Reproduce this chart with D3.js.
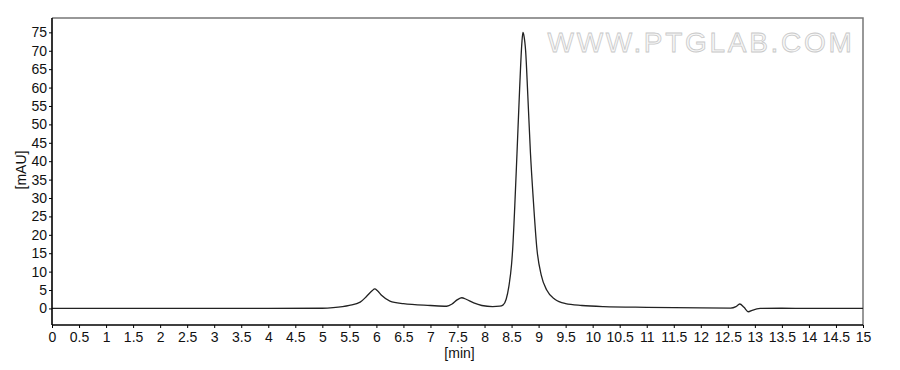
<!DOCTYPE html>
<html><head><meta charset="utf-8">
<script src="https://cdn.jsdelivr.net/npm/d3@7"></script>
<style>body{margin:0;background:#fff}svg{display:block}text{font-family:"Liberation Sans",Arial,sans-serif}</style>
</head><body><svg id="c" width="900" height="370"></svg>
<script>
const times  = [0, 2, 4, 5.0, 5.2, 5.5, 5.7, 5.82, 5.92, 5.97, 6.02, 6.1, 6.25, 6.5, 7.0, 7.3, 7.4, 7.5, 7.58, 7.66, 7.8, 7.95, 8.15, 8.28, 8.34, 8.4, 8.45, 8.5, 8.52, 8.56, 8.6, 8.65, 8.69, 8.71, 8.73, 8.76, 8.8, 8.85, 8.9, 8.97, 9.05, 9.15, 9.3, 9.5, 9.8, 10.2, 11, 12, 12.55, 12.65, 12.72, 12.8, 12.88, 12.95, 13.1, 13.5, 14, 15];
const values = [0, 0, 0, 0.05, 0.2, 0.8, 1.7, 3.3, 4.8, 5.3, 4.8, 3.5, 2.0, 1.3, 0.8, 0.6, 1.2, 2.4, 2.9, 2.5, 1.5, 0.8, 0.5, 0.6, 0.9, 2.5, 6, 12, 16, 28, 42, 60, 72, 75, 74, 70, 58, 42, 30, 16, 9, 5, 2.5, 1.3, 0.8, 0.5, 0.3, 0.15, 0.1, 0.5, 1.2, 0.3, -0.9, -0.5, 0, 0.05, 0, 0];
const xTicks = d3.range(0, 15.001, 0.5);
const yTicks = d3.range(0, 75.001, 5);
const xLabel = "[min]", yLabel = "[mAU]", watermark = "WWW.PTGLAB.COM";

const svg = d3.select("#c");
const L = 52, R = 863, T = 18, B = 325;
const x = d3.scaleLinear().domain([0, 15]).range([L, R]);
const y = d3.scaleLinear().domain([-4.5, 78.9]).range([B, T]);

// frame top/right
svg.append("path").attr("d", `M${L},${T}H${R}V${B}`).attr("fill", "none").attr("stroke", "#777").attr("stroke-width", 1.5);

// watermark
svg.append("text").attr("x", 701).attr("y", 52).attr("text-anchor", "middle")
  .attr("font-size", 28).attr("letter-spacing", 2.7)
  .attr("fill", "#f7f7f7").attr("stroke", "#c8c8c8").attr("stroke-width", 0.8)
  .text(watermark);

// curve
const line = d3.line().x((d, i) => x(times[i])).y(d => y(d)).curve(d3.curveMonotoneX);
svg.append("path").datum(values).attr("d", line).attr("fill", "none").attr("stroke", "#222").attr("stroke-width", 1.3);

// axes
const xa = svg.append("g").attr("transform", `translate(0,${B})`)
  .call(d3.axisBottom(x).tickValues(xTicks).tickSize(3).tickSizeOuter(0).tickPadding(4).tickFormat(d3.format("~g")));
const ya = svg.append("g").attr("transform", `translate(${L},0)`)
  .call(d3.axisLeft(y).tickValues(yTicks).tickSize(3).tickSizeOuter(0).tickPadding(2));
[xa, ya].forEach(g => {
  g.select(".domain").attr("stroke", "#000").attr("stroke-width", 1.6);
  g.selectAll(".tick line").attr("stroke", "#000");
  g.selectAll("text").attr("font-size", 14).attr("fill", "#111").attr("font-family", "'Liberation Sans',Arial,sans-serif");
});
ya.select(".domain").attr("d", `M0,${T}V${B}`);
xa.select(".domain").attr("d", `M${L},0H${R}`);

svg.append("text").attr("x", (L + R) / 2 + 2).attr("y", 358).attr("text-anchor", "middle").attr("font-size", 14).attr("fill", "#111").text(xLabel);
svg.append("text").attr("transform", `translate(26,${170}) rotate(-90)`).attr("text-anchor", "middle").attr("font-size", 14).attr("fill", "#111").text(yLabel);
</script></body></html>
